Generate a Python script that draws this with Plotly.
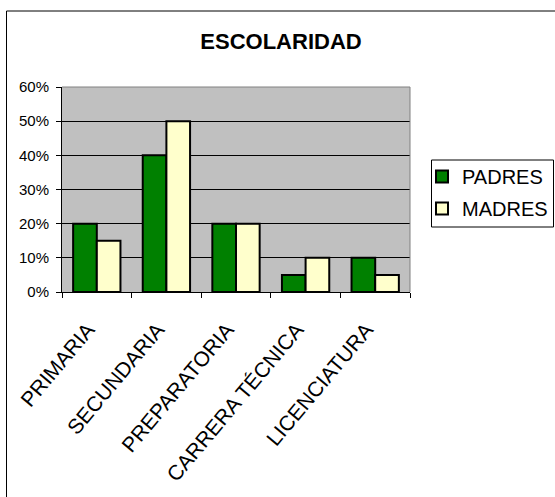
import plotly.graph_objects as go

categories = ["PRIMARIA", "SECUNDARIA", "PREPARATORIA", "CARRERA TÉCNICA", "LICENCIATURA"]
padres = [0.20, 0.40, 0.20, 0.05, 0.10]
madres = [0.15, 0.50, 0.20, 0.10, 0.05]
title_text = "ESCOLARIDAD"

FONT = "Arial, Liberation Sans, sans-serif"

fig = go.Figure()
fig.add_trace(go.Bar(x=categories, y=padres, name="PADRES", legendgroup="p",
                     marker=dict(color="#008000", line=dict(color="black", width=2))))
fig.add_trace(go.Bar(x=categories, y=madres, name="MADRES", legendgroup="m",
                     marker=dict(color="#FFFFCC", line=dict(color="black", width=2))))

W, H = 555, 497
PL, PR, PT, PB = 62, 410, 87, 292   # plot area in screen pixels
L, T = PL, PT
R, B = W - PR, H - PB
pw = PR - PL
ph = PB - PT

def px_x(p):
    return (p - PL) / pw

def px_y(p):
    return (PB - p) / ph

fig.update_layout(
    width=W, height=H,
    margin=dict(l=L, r=R, t=T, b=B, pad=0, autoexpand=False),
    paper_bgcolor="white",
    plot_bgcolor="#C0C0C0",
    barmode="group",
    bargap=0.32,
    bargroupgap=0,
    font=dict(family=FONT, color="black"),
    title=dict(text="<b>" + title_text + "</b>", x=281 / W, xanchor="center",
               y=1 - 41 / H, yanchor="middle", font=dict(size=22, family=FONT)),
    legend=dict(x=px_x(422), y=px_y(157), xanchor="left", yanchor="top",
                borderwidth=0, bgcolor="rgba(0,0,0,0)",
                font=dict(size=20, family=FONT), traceorder="grouped",
                tracegroupgap=3, itemwidth=30),
    showlegend=True,
)

fig.update_xaxes(
    showline=True, linecolor="black", linewidth=1,
    ticks="outside", ticklen=5, tickcolor="black", tickson="boundaries",
    tickangle=-50, tickfont=dict(size=21, family=FONT),
    ticklabelstandoff=16, ticklabelshift=-9,
    showgrid=False,
)
fig.update_yaxes(
    range=[0, 0.6], dtick=0.1, tickformat=".0%",
    showline=True, linecolor="black", linewidth=1,
    ticks="outside", ticklen=5, tickcolor="black",
    tickfont=dict(size=15, family=FONT),
    ticklabelstandoff=4,
    showgrid=True, gridcolor="black", gridwidth=1,
    zeroline=False,
)

# plot area border (top & right in gray)
fig.add_shape(type="line", xref="paper", yref="paper", x0=0, x1=1, y0=1, y1=1,
              line=dict(color="#808080", width=1), layer="above")
fig.add_shape(type="line", xref="paper", yref="paper", x0=1, x1=1, y0=0, y1=1,
              line=dict(color="#808080", width=1), layer="above")
# outer chart frame
fig.add_shape(type="rect", xref="paper", yref="paper",
              x0=px_x(6.5), x1=px_x(620), y0=px_y(560), y1=px_y(11),
              line=dict(color="black", width=1), layer="below")
# legend box
fig.add_shape(type="rect", xref="paper", yref="paper",
              x0=px_x(431.5), x1=px_x(553.5), y0=px_y(227), y1=px_y(160),
              line=dict(color="black", width=1), fillcolor="white", layer="below")

fig.write_html("out.html", config={"displayModeBar": False},
               post_script="document.body.style.margin='0';")
